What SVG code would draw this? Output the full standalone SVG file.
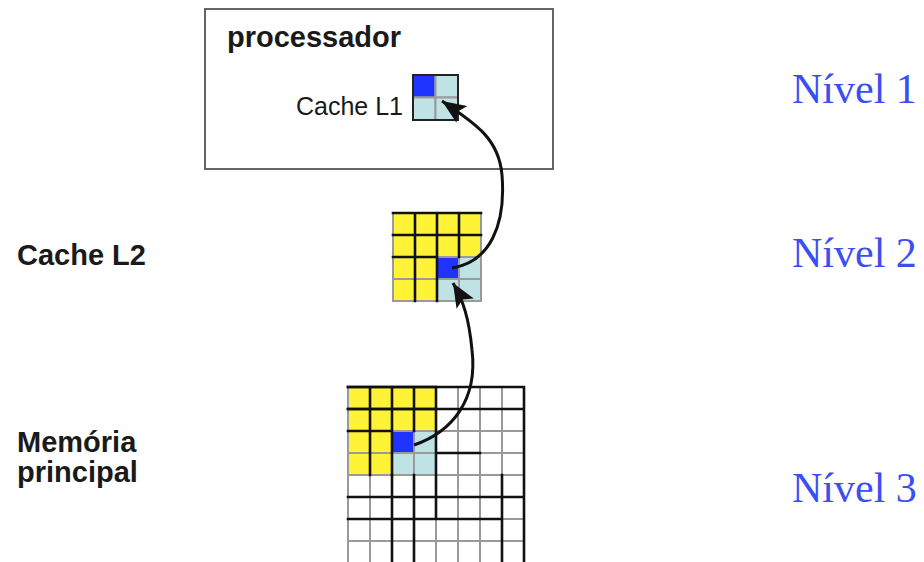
<svg xmlns="http://www.w3.org/2000/svg" width="924" height="562" viewBox="0 0 924 562">
  <defs>
    <style>
      .lbl { font-family: "Liberation Sans", Arial, sans-serif; fill: #1a1a1a; }
      .bold { font-weight: bold; font-size: 29px; }
      .lvl { font-family: "Liberation Serif", "Times New Roman", serif; font-size: 42px; fill: #3b4ef2; }
      .cell { stroke: #9a9a9a; stroke-width: 2; }
      .y { fill: #fff337; }
      .b { fill: #1f35ff; }
      .c { fill: #bfe3e5; }
      .w { fill: #ffffff; }
      .blk { fill: none; stroke: #111; stroke-width: 2.6; stroke-linecap: square; }
      .conn { fill: none; stroke: #111; stroke-width: 3; }
    </style>
    <marker id="arrow" markerUnits="userSpaceOnUse" markerWidth="26" markerHeight="20" refX="24" refY="10" orient="auto">
      <path d="M0,0 L24,10 L0,20 L5,10 z" fill="#111"/>
    </marker>
    <!-- 4x4 block: yellow with a blue word and its cyan neighbours -->
    <g id="blk4">
      <rect class="cell y" x="0" y="0" width="22" height="22"/>
      <rect class="cell y" x="22" y="0" width="22" height="22"/>
      <rect class="cell y" x="44" y="0" width="22" height="22"/>
      <rect class="cell y" x="66" y="0" width="22" height="22"/>
      <rect class="cell y" x="0" y="22" width="22" height="22"/>
      <rect class="cell y" x="22" y="22" width="22" height="22"/>
      <rect class="cell y" x="44" y="22" width="22" height="22"/>
      <rect class="cell y" x="66" y="22" width="22" height="22"/>
      <rect class="cell y" x="0" y="44" width="22" height="22"/>
      <rect class="cell y" x="22" y="44" width="22" height="22"/>
      <rect class="cell b" x="44" y="44" width="22" height="22"/>
      <rect class="cell c" x="66" y="44" width="22" height="22"/>
      <rect class="cell y" x="0" y="66" width="22" height="22"/>
      <rect class="cell y" x="22" y="66" width="22" height="22"/>
      <rect class="cell c" x="44" y="66" width="22" height="22"/>
      <rect class="cell c" x="66" y="66" width="22" height="22"/>
      <path class="blk" d="M0 0 H88 M22 0 V88 M44 0 V88 M66 0 V44 M0 22 H88 M0 44 H44"/>
    </g>
  </defs>

  <rect width="924" height="562" fill="#ffffff"/>

  <!-- Level 1: processor with L1 cache -->
  <g id="processador">
    <rect x="205" y="9" width="348" height="160" fill="#ffffff" stroke="#555" stroke-width="1.8"/>
    <text class="lbl bold" x="227" y="47">processador</text>
    <text class="lbl" x="403" y="115" font-size="25" text-anchor="end">Cache L1</text>
    <g id="cache-l1">
      <rect class="cell b" x="413" y="75" width="22.5" height="22.5"/>
      <rect class="cell c" x="435.5" y="75" width="22.5" height="22.5"/>
      <rect class="cell c" x="413" y="97.5" width="22.5" height="22.5"/>
      <rect class="cell c" x="435.5" y="97.5" width="22.5" height="22.5"/>
      <rect x="413" y="75" width="45" height="45" fill="none" stroke="#222" stroke-width="2"/>
    </g>
  </g>

  <!-- Level 2: L2 cache -->
  <g id="cache-l2">
    <text class="lbl bold" x="17" y="265">Cache L2</text>
    <use href="#blk4" x="393" y="213"/>
  </g>

  <!-- Level 3: main memory -->
  <g id="memoria">
    <text class="lbl bold" x="17" y="452">Memória</text>
    <text class="lbl bold" x="17" y="482">principal</text>
    <g id="mem-grid">
      <!-- white cells of the 8x8 memory -->
      <g class="cell w">
        <rect x="436" y="387" width="22" height="22"/><rect x="458" y="387" width="22" height="22"/><rect x="480" y="387" width="22" height="22"/><rect x="502" y="387" width="22" height="22"/>
        <rect x="436" y="409" width="22" height="22"/><rect x="458" y="409" width="22" height="22"/><rect x="480" y="409" width="22" height="22"/><rect x="502" y="409" width="22" height="22"/>
        <rect x="436" y="431" width="22" height="22"/><rect x="458" y="431" width="22" height="22"/><rect x="480" y="431" width="22" height="22"/><rect x="502" y="431" width="22" height="22"/>
        <rect x="436" y="453" width="22" height="22"/><rect x="458" y="453" width="22" height="22"/><rect x="480" y="453" width="22" height="22"/><rect x="502" y="453" width="22" height="22"/>
        <rect x="348" y="475" width="22" height="22"/><rect x="370" y="475" width="22" height="22"/><rect x="392" y="475" width="22" height="22"/><rect x="414" y="475" width="22" height="22"/><rect x="436" y="475" width="22" height="22"/><rect x="458" y="475" width="22" height="22"/><rect x="480" y="475" width="22" height="22"/><rect x="502" y="475" width="22" height="22"/>
        <rect x="348" y="497" width="22" height="22"/><rect x="370" y="497" width="22" height="22"/><rect x="392" y="497" width="22" height="22"/><rect x="414" y="497" width="22" height="22"/><rect x="436" y="497" width="22" height="22"/><rect x="458" y="497" width="22" height="22"/><rect x="480" y="497" width="22" height="22"/><rect x="502" y="497" width="22" height="22"/>
        <rect x="348" y="519" width="22" height="22"/><rect x="370" y="519" width="22" height="22"/><rect x="392" y="519" width="22" height="22"/><rect x="414" y="519" width="22" height="22"/><rect x="436" y="519" width="22" height="22"/><rect x="458" y="519" width="22" height="22"/><rect x="480" y="519" width="22" height="22"/><rect x="502" y="519" width="22" height="22"/>
        <rect x="348" y="541" width="22" height="22"/><rect x="370" y="541" width="22" height="22"/><rect x="392" y="541" width="22" height="22"/><rect x="414" y="541" width="22" height="22"/><rect x="436" y="541" width="22" height="22"/><rect x="458" y="541" width="22" height="22"/><rect x="480" y="541" width="22" height="22"/><rect x="502" y="541" width="22" height="22"/>
      </g>
      <use href="#blk4" x="348" y="387"/>
      <!-- block boundaries -->
      <path class="blk" d="M348 387 H524 M524 387 V563 M348 409 H524 M436 453 H480 M348 497 H524 M348 519 H502 M392 475 V563 M414 475 V563 M436 387 V519 M502 475 V563"/>
    </g>
  </g>

  <!-- level labels -->
  <g id="niveis">
    <text class="lvl" x="792" y="103">Nível 1</text>
    <text class="lvl" x="792" y="267">Nível 2</text>
    <text class="lvl" x="792" y="502">Nível 3</text>
  </g>

  <!-- transfers between levels -->
  <g id="connectors">
    <path class="conn" marker-end="url(#arrow)" d="M414 445 C452 432, 478 400, 472 350 C469 318, 463 300, 453 283"/>
    <path class="conn" marker-end="url(#arrow)" d="M452 268 C490 262, 506 225, 502 175 C499 140, 478 125, 442 101"/>
  </g>
</svg>
